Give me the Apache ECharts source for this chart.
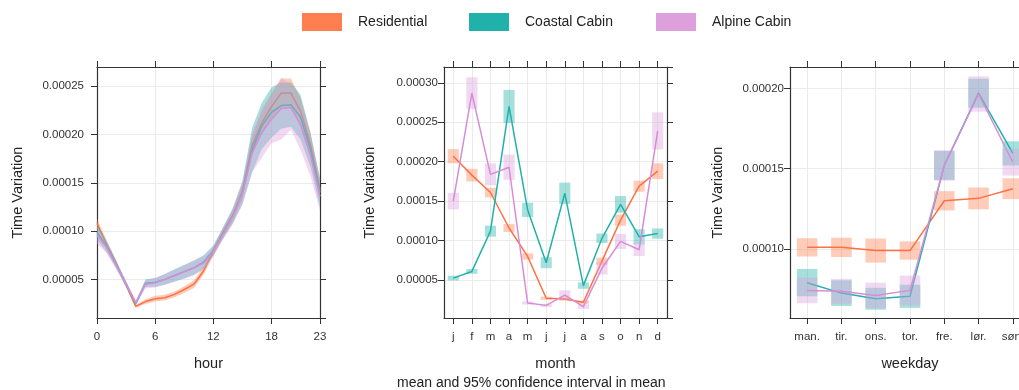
<!DOCTYPE html>
<html>
<head>
<meta charset="utf-8">
<script src="https://cdn.jsdelivr.net/npm/echarts@6/dist/echarts.min.js"></script>
<style>
  html, body { margin: 0; padding: 0; background: #fff; overflow: hidden; }
  /* the right panel runs past the window edge, as in the original */
  #main { width: 1030px; height: 390px; }
</style>
</head>
<body>
<div id="main"></div>
<script>
// values are in units of 1e-5
var hours = [0,1,2,3,4,5,6,7,8,9,10,11,12,13,14,15,16,17,18,19,20,21,22,23];
var months = ['j','f','m','a','m','j','j','a','s','o','n','d'];
var weekdays = ['man.','tir.','ons.','tor.','fre.','lør.','søn.'];

var resHour   = [10.8,8.6,6.6,4.4,2.2,2.7,3.0,3.1,3.45,3.95,4.5,5.9,7.9,9.8,11.6,14.1,18.9,21.2,22.9,24.3,24.3,22.4,19.0,14.3];
var resHourCi = [0.5,0.4,0.3,0.2,0.15,0.25,0.3,0.3,0.3,0.35,0.4,0.4,0.5,0.5,0.6,0.8,1.0,1.2,1.4,1.5,1.5,1.4,1.2,1.0];
var coaHour   = [9.9,8.4,6.5,4.5,2.5,4.6,4.7,5.0,5.4,5.8,6.2,6.8,8.0,9.8,11.6,14.0,18.4,20.9,22.3,23.0,23.1,21.8,18.5,14.0];
var coaHourCi = [0.8,0.6,0.4,0.3,0.2,0.4,0.45,0.55,0.65,0.7,0.75,0.7,0.5,0.6,0.8,1.2,2.3,2.4,2.6,2.4,2.3,2.3,1.8,1.5];
var alpHour   = [9.6,8.3,6.4,4.5,2.6,4.5,4.65,5.0,5.4,5.8,6.2,6.7,7.9,9.7,11.5,13.9,18.1,20.2,21.6,22.7,22.8,21.0,17.9,13.6];
var alpHourCi = [0.9,0.6,0.4,0.3,0.2,0.45,0.5,0.55,0.6,0.7,0.75,0.7,0.5,0.6,0.8,1.2,2.0,2.6,2.5,3.2,2.3,2.6,2.2,1.5];

var resMonth   = [20.7,18.3,16.1,11.6,8.0,2.7,2.6,2.2,7.4,12.6,16.9,18.8];
var resMonthCi = [0.9,0.8,0.6,0.5,0.4,0.2,0.2,0.2,0.45,0.7,0.7,1.0];
var coaMonth   = [5.25,6.1,11.2,27.0,13.9,7.2,16.0,4.3,10.3,14.6,10.5,10.9];
var coaMonthCi = [0.3,0.3,0.7,2.1,0.9,0.7,1.35,0.4,0.6,1.05,0.95,0.65];
var alpMonth   = [15.0,28.7,18.4,19.3,2.1,1.8,3.1,1.65,6.5,9.9,8.85,23.9];
var alpMonthCi = [1.05,2.0,1.4,1.6,0.2,0.2,0.6,0.3,0.8,0.95,0.8,2.35];

var resDay   = [10.1,10.1,9.9,9.9,13.0,13.15,13.75];
var resDayCi = [0.57,0.6,0.75,0.57,0.6,0.68,0.65];
var coaDay   = [7.9,7.25,6.9,7.05,15.2,19.7,15.95];
var coaDayCi = [0.85,0.8,0.68,0.72,0.9,0.9,0.75];
var alpDay   = [7.42,7.36,7.1,7.42,15.2,19.65,15.4];
var alpDayCi = [0.8,0.78,0.8,0.92,0.95,1.1,0.83];

var names = ['Residential', 'Coastal Cabin', 'Alpine Cabin'];
var colors = ['#FF7F50', '#20B2AA', '#DDA0DD'];
var shades = ['rgba(255,127,80,0.4)', 'rgba(32,178,170,0.4)', 'rgba(221,160,221,0.4)'];
var lineColors = ['#FF7043', '#20B2AA', '#D88CD8'];

var FONT = 'Liberation Sans, Arial, sans-serif';
var axisCol = '#333';
var gridCol = '#EBEBEB';

function fmt(v) { return (v / 1e5).toFixed(5); }

// shaded band for the hour panel, drawn as one polygon
function bandSeries(k, mean, ci) {
    var d = hours.map(function (h, i) { return [h, mean[i] - ci[i], mean[i] + ci[i]]; });
    return {
        type: 'custom', name: names[k], xAxisIndex: 0, yAxisIndex: 0, data: d, silent: true, z: 2 + 2 * k,
        encode: { x: 0, y: [1, 2] },
        renderItem: function (params, api) {
            if (params.dataIndexInside !== 0) return null;
            var top = [], bot = [];
            for (var i = 0; i < d.length; i++) {
                top.push(api.coord([api.value(0, i), api.value(2, i)]));
                bot.push(api.coord([api.value(0, i), api.value(1, i)]));
            }
            return { type: 'polygon', shape: { points: top.concat(bot.reverse()) },
                     style: { fill: shades[k], stroke: null } };
        }
    };
}

function hourLine(k, mean) {
    var d = [];
    for (var i = 0; i < hours.length; i++) d.push([hours[i], mean[i]]);
    return { type: 'line', name: names[k], xAxisIndex: 0, yAxisIndex: 0, data: d, symbol: 'none',
             lineStyle: { color: lineColors[k], width: 1.5 }, itemStyle: { color: colors[k] }, z: 3 + 2 * k };
}

// confidence boxes for the month and weekday panels
function boxSeries(k, ax, mean, ci) {
    var d = mean.map(function (m, i) { return [i, m - ci[i], m + ci[i]]; });
    return {
        type: 'custom', name: names[k], xAxisIndex: ax, yAxisIndex: ax, data: d, silent: true, z: 2 + 2 * k,
        encode: { x: 0, y: [1, 2] },
        renderItem: function (params, api) {
            var lo = api.coord([api.value(0), api.value(1)]);
            var hi = api.coord([api.value(0), api.value(2)]);
            var w = api.size([1, 0])[0] * 0.6;
            return { type: 'rect', shape: { x: lo[0] - w / 2, y: hi[1], width: w, height: lo[1] - hi[1] },
                     style: { fill: shades[k], stroke: null } };
        }
    };
}

function catLine(k, ax, mean) {
    return { type: 'line', name: names[k], xAxisIndex: ax, yAxisIndex: ax, data: mean, symbol: 'none',
             lineStyle: { color: lineColors[k], width: 1.5 }, itemStyle: { color: colors[k] }, z: 3 + 2 * k };
}

var tick = { show: true, length: 6, lineStyle: { color: axisCol } };
var line = { show: true, onZero: false, lineStyle: { color: axisCol, width: 1.2 } };
var split = { show: true, lineStyle: { color: gridCol, width: 1 } };

function yLeft(g, min, max, n, margin, gap) {
    return { type: 'value', gridIndex: g, min: min, max: max, splitNumber: n, position: 'left',
             axisLine: line, axisTick: tick, splitLine: split,
             axisLabel: { formatter: fmt, fontSize: 11.5, color: axisCol, fontFamily: FONT, margin: margin,
                          showMinLabel: false, showMaxLabel: false },
             name: 'Time Variation', nameLocation: 'middle', nameGap: gap, nameRotate: 90,
             nameTextStyle: { fontSize: 14.5, color: '#222', fontFamily: FONT } };
}
function yRight(g, min, max, n) {
    return { type: 'value', gridIndex: g, min: min, max: max, splitNumber: n, position: 'right',
             axisLine: line, axisTick: tick, splitLine: { show: false }, axisLabel: { show: false } };
}
function xCat(g, data, title, pos) {
    var ax = { type: 'category', gridIndex: g, data: data, position: pos, boundaryGap: true,
               axisLine: line, axisTick: { show: true, length: 6, alignWithLabel: true, lineStyle: { color: axisCol } },
               axisLabel: { show: pos === 'bottom', fontSize: 11.5, color: axisCol, fontFamily: FONT, margin: 13, interval: 0 },
               splitLine: { show: false } };
    if (title) {
        ax.name = title; ax.nameLocation = 'middle'; ax.nameGap = 38;
        ax.nameTextStyle = { fontSize: 14.5, color: '#222', fontFamily: FONT };
    }
    return ax;
}
// hidden value axis, only for the vertical grid lines at the category centres
function xGridOnly(g, n) {
    return { type: 'value', gridIndex: g, min: -0.5, max: n - 0.5, splitNumber: n, position: 'bottom',
             axisLine: { show: false, onZero: false }, axisTick: { show: false }, axisLabel: { show: false },
             splitLine: split };
}

// each group: shading first, then its line, so later shading tints earlier lines
var series = [];
series.push(bandSeries(0, resHour, resHourCi), hourLine(0, resHour));
series.push(bandSeries(1, coaHour, coaHourCi), hourLine(1, coaHour));
series.push(bandSeries(2, alpHour, alpHourCi), hourLine(2, alpHour));
series.push(boxSeries(0, 1, resMonth, resMonthCi), catLine(0, 1, resMonth));
series.push(boxSeries(1, 1, coaMonth, coaMonthCi), catLine(1, 1, coaMonth));
series.push(boxSeries(2, 1, alpMonth, alpMonthCi), catLine(2, 1, alpMonth));
series.push(boxSeries(0, 2, resDay, resDayCi), catLine(0, 2, resDay));
series.push(boxSeries(1, 2, coaDay, coaDayCi), catLine(1, 2, coaDay));
series.push(boxSeries(2, 2, alpDay, alpDayCi), catLine(2, 2, alpDay));

var legendX = [302, 469, 656];
var legends = names.map(function (n, k) {
    return { data: [{ name: n, itemStyle: { color: colors[k], borderWidth: 0 } }], left: legendX[k], top: 13, padding: 0,
             icon: 'rect', itemWidth: 40, itemHeight: 18, selectedMode: false,
             textStyle: { fontSize: 14, color: '#222', fontFamily: FONT, padding: [0, 0, 0, 11] } };
});

var option = {
    animation: false,
    backgroundColor: '#fff',
    legend: legends,
    grid: [
        { left: 97, top: 67, width: 223, height: 251 },
        { left: 444, top: 67, width: 223, height: 251 },
        { left: 790, top: 67, width: 240, height: 251 }
    ],
    xAxis: [
        { type: 'value', gridIndex: 0, min: 0, max: 23, interval: 6, position: 'bottom',
          axisLine: line, axisTick: tick, splitLine: split,
          axisLabel: { fontSize: 11.5, color: axisCol, fontFamily: FONT, margin: 13 },
          name: 'hour', nameLocation: 'middle', nameGap: 38,
          nameTextStyle: { fontSize: 14.5, color: '#222', fontFamily: FONT } },
        xCat(1, months, 'month', 'bottom'),
        xCat(2, weekdays, 'weekday', 'bottom'),
        { type: 'value', gridIndex: 0, min: 0, max: 23, interval: 6, position: 'top',
          axisLine: line, axisTick: tick, splitLine: { show: false }, axisLabel: { show: false } },
        xCat(1, months, null, 'top'),
        xCat(2, weekdays, null, 'top'),
        xGridOnly(1, 12),
        xGridOnly(2, 7)
    ],
    yAxis: [
        yLeft(0, 1.0, 27.0, 5, 13, 72),
        yLeft(1, 0.2, 32.0, 6, 6, 67),
        yLeft(2, 5.7, 21.33, 3, 6, 65),
        yRight(0, 1.0, 27.0, 5),
        yRight(1, 0.2, 32.0, 6),
        yRight(2, 5.7, 21.33, 3)
    ],
    graphic: [
        { type: 'text', left: 397, top: 376,
          style: { text: 'mean and 95% confidence interval in mean', fontSize: 14, fill: '#222', fontFamily: FONT } }
    ],
    series: series
};

var chart = echarts.init(document.getElementById('main'), null, { renderer: 'canvas' });
chart.setOption(option);
</script>
</body>
</html>
